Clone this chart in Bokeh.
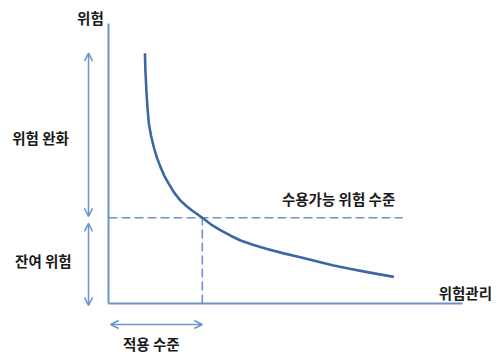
from bokeh.plotting import figure
from bokeh.models import Range1d, Arrow, OpenHead, Label
from bokeh.embed import file_html
from bokeh.resources import INLINE

# Risk vs. risk-management effort (conceptual curve, arbitrary 0-10 units)
management = [1.03, 1.04, 1.07, 1.10, 1.14, 1.20, 1.28, 1.37, 1.47, 1.58,
              1.70, 1.85, 2.03, 2.20, 2.36, 2.65, 2.90, 3.16, 3.45, 3.73,
              4.10, 4.48, 4.95, 5.42, 5.90, 6.36, 6.85, 7.31, 7.70, 8.06]
risk = [8.94, 8.40, 7.61, 7.00, 6.43, 6.00, 5.58, 5.20, 4.87, 4.55,
        4.28, 3.97, 3.68, 3.48, 3.32, 3.06, 2.82, 2.62, 2.42, 2.25,
        2.09, 1.95, 1.79, 1.65, 1.50, 1.36, 1.23, 1.12, 1.03, 0.95]

acceptable_risk = 3.06      # 수용가능 위험 수준
applied_level = 2.65        # 적용 수준
axis_max = 10.0

labels = {
    "y_axis": "위험",
    "x_axis": "위험관리",
    "mitigation": "위험 완화",
    "residual": "잔여 위험",
    "applied": "적용 수준",
    "acceptable": "수용가능 위험 수준",
}

AXIS_COLOR = "#6B94CC"
CURVE_COLOR = "#3D67A3"
TEXT_COLOR = "#1a1a1a"
FONT = "Noto Sans CJK KR"

p = figure(width=501, height=360, output_backend="svg", toolbar_location=None,
           x_range=Range1d(-3.051, 11.102), y_range=Range1d(-2.036, 10.821),
           min_border=0, outline_line_color=None)
p.axis.visible = False
p.grid.visible = False

# axes drawn as plain lines
p.line([0, 0], [0, axis_max], line_color=AXIS_COLOR, line_width=2)
p.line([0, axis_max], [0, 0], line_color=AXIS_COLOR, line_width=2)

# acceptable risk level and the matching management level
p.line([0, 8.31], [acceptable_risk, acceptable_risk], line_color=AXIS_COLOR,
       line_width=1.6, line_dash="9 4")
p.line([applied_level, applied_level], [0, acceptable_risk], line_color=AXIS_COLOR,
       line_width=1.6, line_dash="9 4")

# risk curve
p.line(management, risk, line_color=CURVE_COLOR, line_width=2.6,
       line_join="round")

# double-headed dimension arrows
def dim_arrow(x0, y0, x1, y1):
    p.add_layout(Arrow(x_start=x0, y_start=y0, x_end=x1, y_end=y1,
                       line_color=AXIS_COLOR, line_width=1.5,
                       start=OpenHead(size=8, line_color=AXIS_COLOR, line_width=1.5),
                       end=OpenHead(size=8, line_color=AXIS_COLOR, line_width=1.5)))

dim_arrow(-0.565, risk[0], -0.565, acceptable_risk + 0.05)
dim_arrow(-0.565, acceptable_risk - 0.2, -0.565, -0.07)
dim_arrow(0.06, -0.75, applied_level, -0.75)

def label(x, y, key):
    p.add_layout(Label(x=x, y=y, text=labels[key], text_font=FONT,
                       text_font_size="14.5px", text_font_style="bold",
                       text_color=TEXT_COLOR,
                       text_align="center", text_baseline="middle"))

label(-0.51, 10.21, "y_axis")
label(10.08, 0.39, "x_axis")
label(-1.92, 5.93, "mitigation")
label(-1.84, 1.54, "residual")
label(1.21, -1.43, "applied")
label(6.50, 3.75, "acceptable")

open("out.html", "w").write(file_html(p, INLINE))
